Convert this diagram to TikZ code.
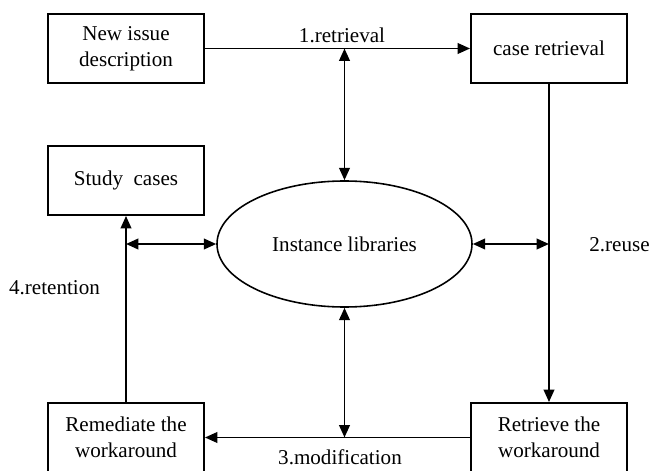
\documentclass[tikz,border=0pt]{standalone}
\usepackage{fontspec}
\setmainfont{Liberation Serif}
\usetikzlibrary{arrows.meta,shapes.geometric}

\begin{document}
\begin{tikzpicture}[
    caja/.style={draw, line width=1.1pt, minimum width=3.12cm, minimum height=1.38cm,
      inner sep=0pt, align=center, font=\fontsize{12}{15}\selectfont},
    texto/.style={font=\fontsize{12}{15}\selectfont},
    flecha/.style={line width=1.1pt, -{Triangle[length=7pt,width=6pt]}},
    doble/.style={line width=1.1pt, {Triangle[length=7pt,width=6pt]}-{Triangle[length=7pt,width=6pt]}}
  ]
    % Marco de la figura
    \useasboundingbox (0,0) rectangle (13.04,9.4);

    % cajas
    \node[caja] (nuevo) at (2.52,8.43) {New issue\\description};
    \node[caja] (recup) at (10.98,8.43) {case retrieval};
    \node[caja] (estudio) at (2.52,5.79) {Study\ \ cases};
    \node[caja] (remedio) at (2.52,0.65) {Remediate the\\workaround};
    \node[caja] (solucion) at (10.98,0.65) {Retrieve the\\workaround};

    % biblioteca de instancias
    \node[draw, ellipse, line width=0.9pt, minimum width=5.1cm, minimum height=2.52cm,
      inner sep=0pt, texto] (biblio) at (6.89,4.52) {Instance libraries};

    % ciclo
    \draw[flecha] (nuevo.east) -- (recup.west);
    \draw[flecha] (recup.south) -- (solucion.north);
    \draw[flecha] (solucion.west) -- (remedio.east);
    \draw[flecha] (remedio.north) -- (estudio.south);

    % enlaces con la biblioteca
    \coordinate (arriba) at (biblio.north |- nuevo.east);
    \coordinate (abajo) at (biblio.south |- remedio.east);
    \draw[doble] (arriba) -- (biblio.north);
    \draw[doble] (biblio.south) -- (abajo);
    \draw[doble] (biblio.west -| estudio.south) -- (biblio.west);
    \draw[doble] (biblio.east) -- (biblio.east -| recup.south);

    % Etiquetas de las fases
    \node[texto] (fase1) at (6.84,8.70) {1.retrieval};
    \node[texto] (fase2) at (12.39,4.50) {2.reuse};
    \node[texto] (fase3) at (6.80,0.26) {3.modification};
    \node[texto] (fase4) at (1.09,3.64) {4.retention};
  \end{tikzpicture}
\end{document}
